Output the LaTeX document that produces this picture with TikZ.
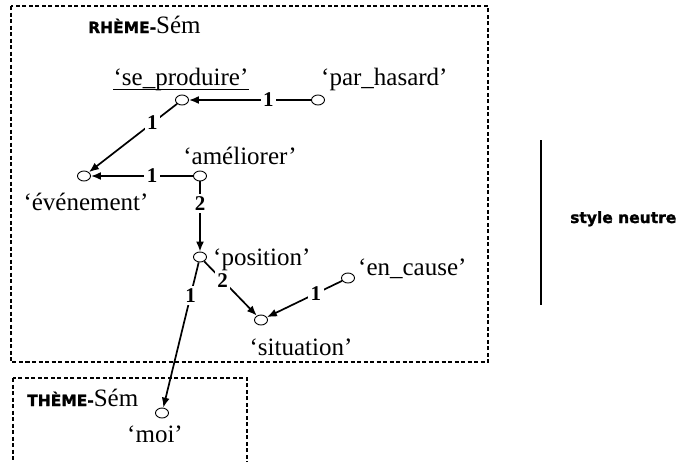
\documentclass[tikz,border=0pt]{standalone}
\usepackage{fontspec}
\setmainfont{Liberation Serif}
\setsansfont{DejaVu Sans}[BoldFeatures={FakeBold=1.5}]
\usetikzlibrary{arrows.meta,shapes.geometric,positioning}

\begin{document}
\begin{tikzpicture}[x=1pt,y=-1pt,
	sem/.style={draw,ellipse,line width=0.9pt,minimum width=13pt,minimum height=10pt,inner sep=0pt},
	word/.style={font=\fontsize{25}{28}\selectfont,inner sep=0pt},
	num/.style={font=\fontsize{21}{22}\selectfont\bfseries,fill=white,inner sep=2.5pt},
	rel/.style={-{Latex[length=10pt,width=8pt]},line width=1.7pt},
	zone/.style={dash pattern=on 4pt off 2.5pt,line width=1.2pt},
	tag/.style={font=\sffamily\bfseries\fontsize{15.5}{17}\selectfont}]
	\useasboundingbox (0,0) rectangle (676,461);
	% communicative zones
	\draw[zone] (11,6) rectangle (488,362);
	\draw[zone] (13,378) rectangle (247,480);
	\node[anchor=base west,inner sep=0pt] (rheme) at (88,33) {{\sffamily\bfseries\fontsize{15.5}{17}\selectfont RHÈME-}{\fontsize{25}{28}\selectfont Sém}};
	\node[anchor=base west,inner sep=0pt] (theme) at (27,406) {{\sffamily\bfseries\fontsize{15.5}{17}\selectfont THÈME-}{\fontsize{25}{28}\selectfont Sém}};
	% semantemes
	\node[sem] (prod) at (182,100) {};
	\node[sem] (hasard) at (318,100) {};
	\node[sem] (event) at (84,176) {};
	\node[sem] (amel) at (200,176) {};
	\node[sem] (pos) at (200,257) {};
	\node[sem] (cause) at (348,278) {};
	\node[sem] (sit) at (261,320) {};
	\node[sem] (moi) at (162,413) {};
	\node[word,anchor=base] (prodw) at (181,85) {‘se\_produire’};
	\draw[line width=1pt] ([yshift=-4.5pt]prodw.base west) -- ([yshift=-4.5pt]prodw.base east);
	\node[word,anchor=base west] (hasardw) at (321,85) {‘par\_hasard’};
	\node[word,anchor=base] (amelw) at (240,164) {‘améliorer’};
	\node[word,anchor=base] (eventw) at (86,210) {‘événement’};
	\node[word,anchor=base west] (posw) at (213,265) {‘position’};
	\node[word,anchor=base west] (causew) at (358,275) {‘en\_cause’};
	\node[word,anchor=base] (sitw) at (301,355) {‘situation’};
	\node[word,anchor=base] (moiw) at (155,442) {‘moi’};
	% relations
	\draw[rel] (hasard) -- node[num,pos=0.35] {1} (prod);
	\draw[rel] (prod) -- node[num,pos=0.28] {1} (event);
	\draw[rel] (amel) -- node[num,pos=0.4] {1} (event);
	\draw[rel] (amel) -- node[num,pos=0.32] {2} (pos);
	\draw[rel] (pos) -- node[num,pos=0.35] {2} (sit);
	\draw[rel] (cause) -- node[num,pos=0.35] {1} (sit);
	\draw[rel] (pos) -- node[num,pos=0.23] {1} (moi);
	% style
	\coordinate (bartop) at (541,140);
	\coordinate (barbot) at (541,305);
	\draw[line width=1.5pt] (bartop) -- (barbot);
	\node[tag,anchor=base west,inner sep=0pt] (style) at (570,223) {style neutre};
\end{tikzpicture}
\end{document}
